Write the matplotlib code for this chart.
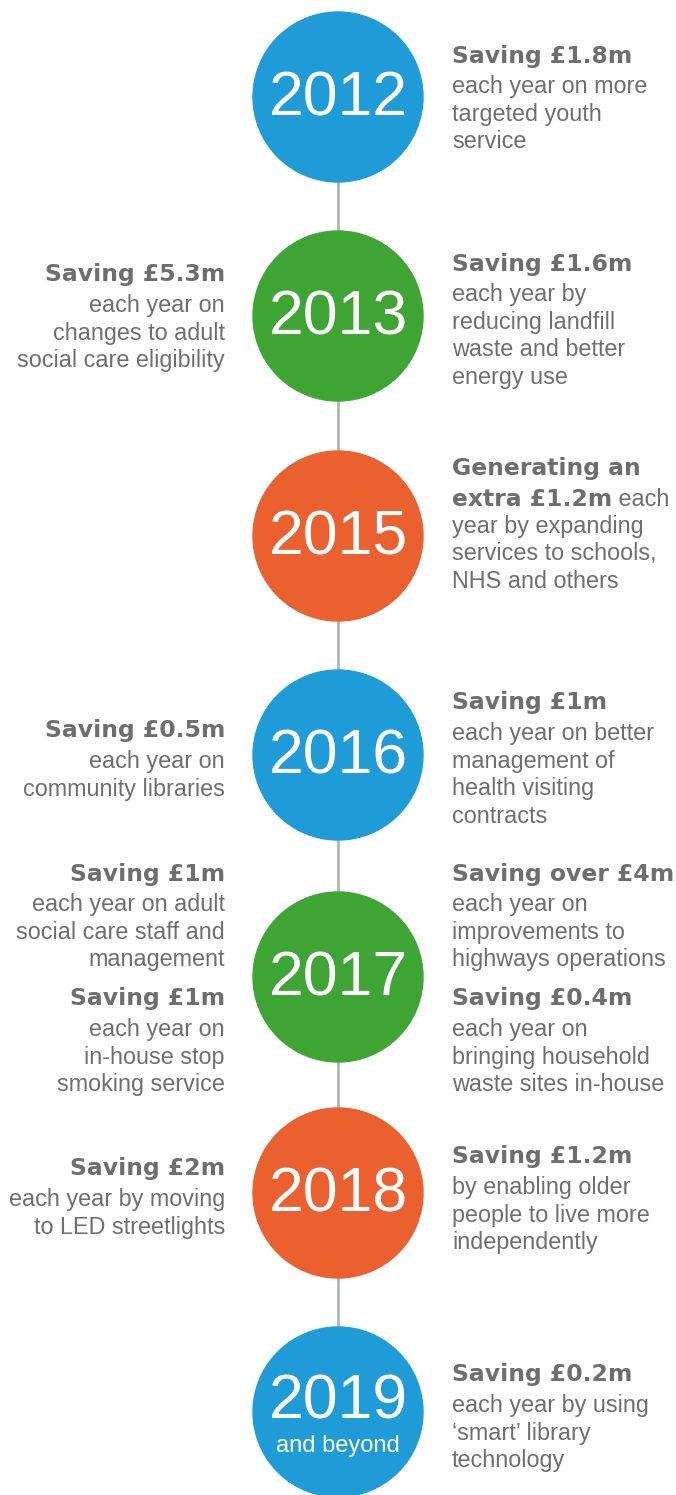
import matplotlib
matplotlib.use('Agg')
import matplotlib.pyplot as plt
from matplotlib.patches import Circle

plt.rcParams['font.family'] = ['Liberation Sans', 'DejaVu Sans']

# 数据
years = ['2012', '2013', '2015', '2016', '2017', '2018', '2019']
year_colors = ['#1F9CD8', '#3EA535', '#EA602F', '#1F9CD8', '#3EA535', '#EA602F', '#1F9CD8']
year_subtitles = ['', '', '', '', '', '', 'and beyond']

left_notes = {
    '2013': [('Saving £5.3m', ['each year on', 'changes to adult', 'social care eligibility'])],
    '2016': [('Saving £0.5m', ['each year on', 'community libraries'])],
    '2017': [('Saving £1m', ['each year on adult', 'social care staff and', 'management']),
             ('Saving £1m', ['each year on', 'in-house stop', 'smoking service'])],
    '2018': [('Saving £2m', ['each year by moving', 'to LED streetlights'])],
}
right_notes = {
    '2012': [('Saving £1.8m', ['each year on more', 'targeted youth', 'service'])],
    '2013': [('Saving £1.6m', ['each year by', 'reducing landfill', 'waste and better', 'energy use'])],
    '2015': [('Generating an\nextra £1.2m', ['each', 'year by expanding', 'services to schools,', 'NHS and others'])],
    '2016': [('Saving £1m', ['each year on better', 'management of', 'health visiting', 'contracts'])],
    '2017': [('Saving over £4m', ['each year on', 'improvements to', 'highways operations']),
             ('Saving £0.4m', ['each year on', 'bringing household', 'waste sites in-house'])],
    '2018': [('Saving £1.2m', ['by enabling older', 'people to live more', 'independently'])],
    '2019': [('Saving £0.2m', ['each year by using', '‘smart’ library', 'technology'])],
}

# 布局 (像素)
W, H = 676, 1495
LINE_X = 338
RADIUS = 85
centre_y = [97, 316, 536, 755, 977, 1193, 1412]
left_top = {'2013': [275], '2016': [731], '2017': [874, 999], '2018': [1169]}
right_top = {'2012': [56], '2013': [264], '2015': [469], '2016': [703],
             '2017': [874, 999], '2018': [1157], '2019': [1375]}
LEFT_X, RIGHT_X = 225, 452
LINE_H = 27.6
HEAD_GAP = 30.5

TEXT_GREY = '#6E6E6E'
HEAD_FONT = 'DejaVu Sans'
HEAD_SIZE = 16.9
BODY_SIZE = 16.8


def draw_note(ax, x, y, heading, lines, ha):
    heads = heading.split('\n')
    for i, h in enumerate(heads):
        t = ax.text(x, y + i * 29, h, ha=ha, va='center', fontsize=HEAD_SIZE,
                    family=HEAD_FONT, fontweight='bold', color=TEXT_GREY)
    y_body = y + (len(heads) - 1) * 29 + HEAD_GAP
    if len(heads) > 1:
        # 第一行正文接在加粗文字后面
        y_base = y + (len(heads) - 1) * 29 + 8
        t.set_va('baseline')
        t.set_y(y_base)
        ax.figure.canvas.draw()
        bb = t.get_window_extent().transformed(ax.transData.inverted())
        ax.text(bb.x1, y_base, ' ' + lines[0], ha='left', va='baseline',
                fontsize=BODY_SIZE, color=TEXT_GREY)
        lines = lines[1:]
        y_body = y + (len(heads) - 1) * 29 + 28
    for j, line in enumerate(lines):
        ax.text(x, y_body + j * LINE_H, line, ha=ha, va='center',
                fontsize=BODY_SIZE, color=TEXT_GREY)


def main():
    fig = plt.figure(figsize=(W / 100, H / 100), dpi=100)
    ax = fig.add_axes([0, 0, 1, 1])
    ax.set_xlim(0, W)
    ax.set_ylim(H, 0)
    ax.axis('off')

    ax.plot([LINE_X, LINE_X], [centre_y[0], centre_y[-1]], color='#B3B3B3', lw=2, zorder=1)

    for year, color, sub, cy in zip(years, year_colors, year_subtitles, centre_y):
        ax.add_patch(Circle((LINE_X, cy), RADIUS, color=color, zorder=2))
        if sub:
            ax.text(LINE_X, cy - 10, year, ha='center', va='center', fontsize=45,
                    color='white', zorder=3)
            ax.text(LINE_X, cy + 34, sub, ha='center', va='center', fontsize=17,
                    color='white', zorder=3)
        else:
            ax.text(LINE_X, cy + 2, year, ha='center', va='center', fontsize=45,
                    color='white', zorder=3)

        for (heading, lines), y in zip(left_notes.get(year, []), left_top.get(year, [])):
            draw_note(ax, LEFT_X, y, heading, lines, 'right')
        for (heading, lines), y in zip(right_notes.get(year, []), right_top.get(year, [])):
            draw_note(ax, RIGHT_X, y, heading, lines, 'left')

    fig.savefig('out.png', dpi=100)


if __name__ == '__main__':
    main()
